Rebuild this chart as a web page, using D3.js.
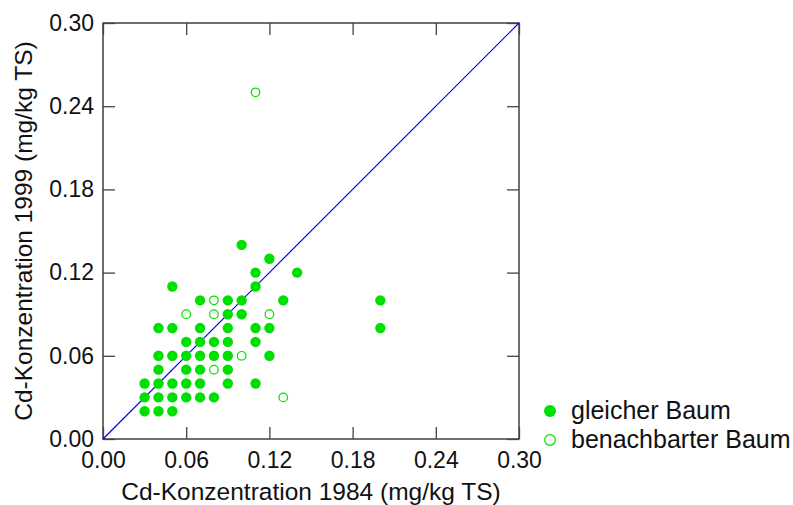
<!DOCTYPE html>
<html>
<head>
<meta charset="utf-8">
<script src="https://cdn.jsdelivr.net/npm/d3@7"></script>
<style>
body{margin:0;background:#fff;}
text{font-family:Arial,"Liberation Sans",sans-serif;}
</style>
</head>
<body>
<div id="chart-area"></div>
<script>
// Cd 1984 vs 1999, same tree (filled) and neighbouring tree (open)
var sameX=[0.10,0.12,0.11,0.14,0.05,0.11,0.07,0.09,0.10,0.13,0.09,0.10,
	0.04,0.05,0.07,0.09,0.11,0.12,0.06,0.07,0.08,0.09,0.11,
	0.04,0.05,0.06,0.07,0.08,0.09,0.12,0.04,0.06,0.07,0.09,
	0.03,0.04,0.05,0.06,0.07,0.09,0.11,0.03,0.04,0.05,0.06,0.07,0.08,
	0.03,0.04,0.05,0.20,0.20];
var sameY=[0.14,0.13,0.12,0.12,0.11,0.11,0.10,0.10,0.10,0.10,0.09,0.09,
	0.08,0.08,0.08,0.08,0.08,0.08,0.07,0.07,0.07,0.07,0.07,
	0.06,0.06,0.06,0.06,0.06,0.06,0.06,0.05,0.05,0.05,0.05,
	0.04,0.04,0.04,0.04,0.04,0.04,0.04,0.03,0.03,0.03,0.03,0.03,0.03,
	0.02,0.02,0.02,0.10,0.08];
var neighX=[0.11,0.08,0.06,0.08,0.12,0.10,0.08,0.13];
var neighY=[0.25,0.10,0.09,0.09,0.09,0.06,0.05,0.03];
var ticks=[0,0.06,0.12,0.18,0.24,0.30];
var legendLabels=["gleicher Baum","benachbarter Baum"];

var W=793,H=505;
var margin={left:103,top:23};
var size=416;
var green="#00e000";

var svg=d3.select("#chart-area").append("svg")
	.attr("width",W)
	.attr("height",H);

var g=svg.append("g")
	.attr("transform","translate("+margin.left+","+margin.top+")");

var x=d3.scaleLinear().domain([0,0.3]).range([0,size]);
var y=d3.scaleLinear().domain([0,0.3]).range([size,0]);

// frame
g.append("rect")
	.attr("width",size)
	.attr("height",size)
	.attr("fill","none")
	.attr("stroke","#222")
	.attr("stroke-width",1.3);

var fmt=d3.format(".2f");
function styleAxis(sel,labels){
	sel.select(".domain").remove();
	sel.selectAll("line").attr("stroke","#444").attr("stroke-width",1.3);
	sel.selectAll("text")
		.attr("font-size","23px")
		.attr("fill","#111")
		.attr("font-family","Arial, 'Liberation Sans', sans-serif");
	if(!labels) sel.selectAll("text").remove();
}

g.append("g")
	.attr("transform","translate(0,"+size+")")
	.call(d3.axisTop(x).tickValues(ticks).tickSize(12).tickFormat(fmt))
	.call(styleAxis,false);
g.append("g")
	.attr("transform","translate(0,"+size+")")
	.call(d3.axisBottom(x).tickValues(ticks).tickSize(0).tickPadding(13).tickFormat(fmt))
	.call(styleAxis,true);
g.append("g")
	.call(d3.axisBottom(x).tickValues(ticks).tickSize(12))
	.call(styleAxis,false);
g.append("g")
	.call(d3.axisRight(y).tickValues(ticks).tickSize(12))
	.call(styleAxis,false);
g.append("g")
	.call(d3.axisLeft(y).tickValues(ticks).tickSize(0).tickPadding(9).tickFormat(fmt))
	.call(styleAxis,true);
g.append("g")
	.attr("transform","translate("+size+",0)")
	.call(d3.axisLeft(y).tickValues(ticks).tickSize(12))
	.call(styleAxis,false);

// 1:1 line
g.append("line")
	.attr("x1",x(0)).attr("y1",y(0))
	.attr("x2",x(0.3)).attr("y2",y(0.3))
	.attr("stroke","#0000ff")
	.attr("stroke-width",1.2);

var same=sameX.map((d,i)=>({x:d,y:sameY[i]}));
var neigh=neighX.map((d,i)=>({x:d,y:neighY[i]}));

g.selectAll("circle.same")
	.data(same).enter().append("circle")
	.attr("class","same")
	.attr("cx",d=>x(d.x))
	.attr("cy",d=>y(d.y))
	.attr("r",5.2)
	.attr("fill",green);

g.selectAll("circle.neigh")
	.data(neigh).enter().append("circle")
	.attr("class","neigh")
	.attr("cx",d=>x(d.x))
	.attr("cy",d=>y(d.y))
	.attr("r",4.3)
	.attr("fill","none")
	.attr("stroke",green)
	.attr("stroke-width",1.2);

// axis titles
svg.append("text")
	.attr("x",margin.left+size/2)
	.attr("y",500)
	.attr("text-anchor","middle")
	.attr("font-size","24.5px")
	.attr("fill","#111")
	.text("Cd-Konzentration 1984 (mg/kg TS)");

svg.append("text")
	.attr("transform","translate(32,"+(margin.top+size/2)+") rotate(-90)")
	.attr("text-anchor","middle")
	.attr("font-size","24.5px")
	.attr("fill","#111")
	.text("Cd-Konzentration 1999 (mg/kg TS)");

// legend
var legend=svg.append("g").attr("transform","translate(550,411)");
legendLabels.forEach((d,i)=>{
	var row=legend.append("g").attr("transform","translate(0,"+(i*29)+")");
	var c=row.append("circle").attr("r",i==0?6:5.3);
	if(i==0) c.attr("fill",green);
	else c.attr("fill","none").attr("stroke",green).attr("stroke-width",1.2);
	row.append("text")
		.attr("x",21)
		.attr("y",8)
		.attr("font-size","25px")
		.attr("fill","#111")
		.text(d);
});
</script>
</body>
</html>
